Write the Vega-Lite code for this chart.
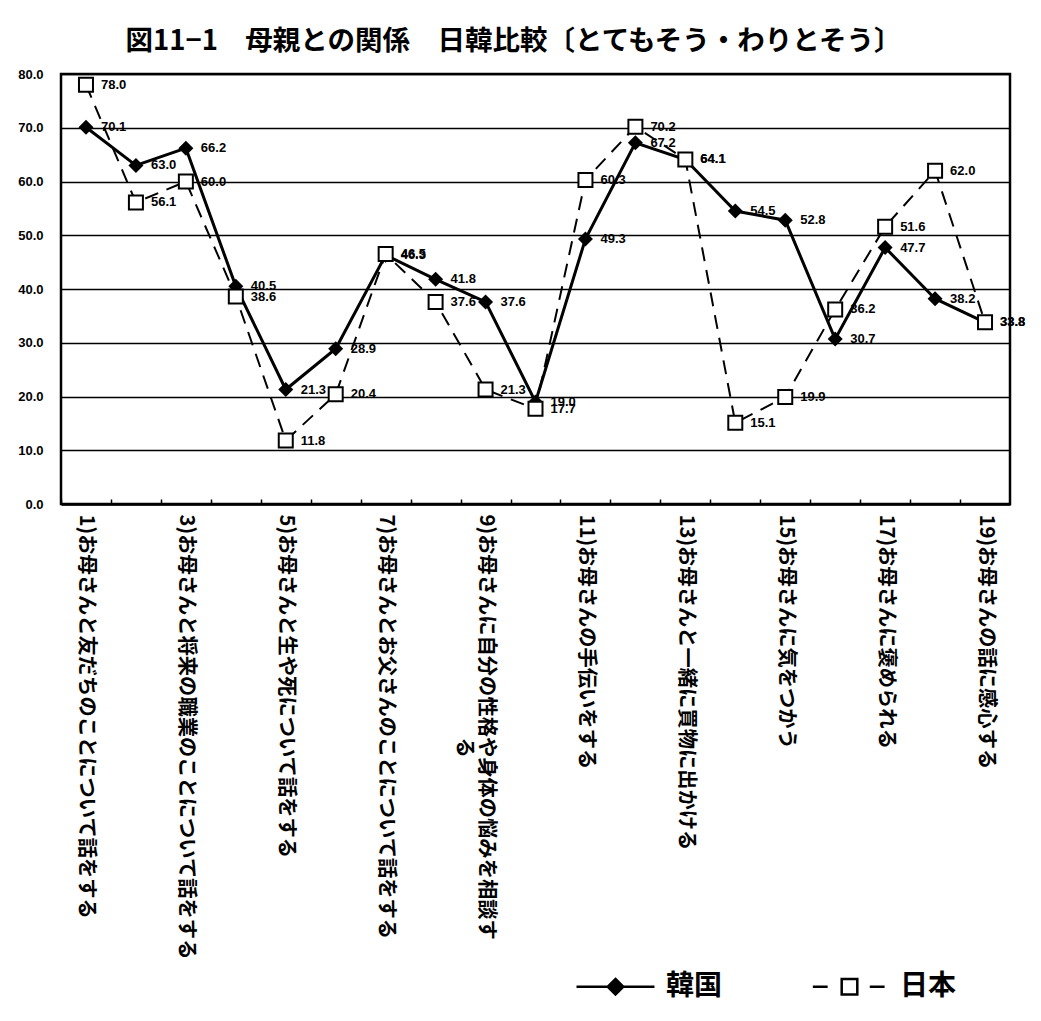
{
  "$schema": "https://vega.github.io/schema/vega-lite/v6.json",
  "width": 949,
  "height": 430,
  "autosize": "none",
  "padding": {"left": 61, "top": 74, "right": 31, "bottom": 517},
  "background": "white",
  "title": {
    "text": "図11−1　母親との関係　日韓比較〔とてもそう・わりとそう〕",
    "font": "Noto Sans CJK JP",
    "fontSize": 27.5,
    "fontWeight": "bold",
    "color": "black",
    "anchor": "middle",
    "dx": -22,
    "offset": 13
  },
  "config": {
    "view": {"stroke": "black", "strokeWidth": 2.5},
    "axis": {"labelColor": "black"}
  },
  "data": {
    "values": [
      {"n": 1, "country": "韓国", "value": 70.1},
      {"n": 2, "country": "韓国", "value": 63.0},
      {"n": 3, "country": "韓国", "value": 66.2},
      {"n": 4, "country": "韓国", "value": 40.5},
      {"n": 5, "country": "韓国", "value": 21.3},
      {"n": 6, "country": "韓国", "value": 28.9},
      {"n": 7, "country": "韓国", "value": 46.3},
      {"n": 8, "country": "韓国", "value": 41.8},
      {"n": 9, "country": "韓国", "value": 37.6},
      {"n": 10, "country": "韓国", "value": 19.0},
      {"n": 11, "country": "韓国", "value": 49.3},
      {"n": 12, "country": "韓国", "value": 67.2},
      {"n": 13, "country": "韓国", "value": 64.1},
      {"n": 14, "country": "韓国", "value": 54.5},
      {"n": 15, "country": "韓国", "value": 52.8},
      {"n": 16, "country": "韓国", "value": 30.7},
      {"n": 17, "country": "韓国", "value": 47.7},
      {"n": 18, "country": "韓国", "value": 38.2},
      {"n": 19, "country": "韓国", "value": 33.8},
      {"n": 1, "country": "日本", "value": 78.0},
      {"n": 2, "country": "日本", "value": 56.1},
      {"n": 3, "country": "日本", "value": 60.0},
      {"n": 4, "country": "日本", "value": 38.6},
      {"n": 5, "country": "日本", "value": 11.8},
      {"n": 6, "country": "日本", "value": 20.4},
      {"n": 7, "country": "日本", "value": 46.5},
      {"n": 8, "country": "日本", "value": 37.6},
      {"n": 9, "country": "日本", "value": 21.3},
      {"n": 10, "country": "日本", "value": 17.7},
      {"n": 11, "country": "日本", "value": 60.3},
      {"n": 12, "country": "日本", "value": 70.2},
      {"n": 13, "country": "日本", "value": 64.1},
      {"n": 14, "country": "日本", "value": 15.1},
      {"n": 15, "country": "日本", "value": 19.9},
      {"n": 16, "country": "日本", "value": 36.2},
      {"n": 17, "country": "日本", "value": 51.6},
      {"n": 18, "country": "日本", "value": 62.0},
      {"n": 19, "country": "日本", "value": 33.8}
    ]
  },
  "encoding": {
    "x": {
      "field": "n",
      "type": "ordinal",
      "scale": {"type": "point", "padding": 0.5},
      "axis": {
        "title": null,
        "domain": true,
        "domainColor": "black",
        "domainWidth": 2.5,
        "ticks": true,
        "tickColor": "black",
        "tickWidth": 1.5,
        "tickSize": -5,
        "tickOffset": -25,
        "labelOffset": 25,
        "labelAngle": 90,
        "labelAlign": "left",
        "labelBaseline": "middle",
        "labelPadding": 15,
        "labelFont": "Noto Sans CJK JP",
        "labelFontSize": 20.3,
        "labelFontWeight": "bold",
        "labelLimit": 0,
        "labelOverlap": false,
        "labelExpr": "['1)お母さんと友だちのことについて話をする', '', '3)お母さんと将来の職業のことについて話をする', '', '5)お母さんと生や死について話をする', '', '7)お母さんとお父さんのことについて話をする', '', ['9)お母さんに自分の性格や身体の悩みを相談す', '\u200d　　　　　　　　　　　る'], '', '11)お母さんの手伝いをする', '', '13)お母さんと一緒に買物に出かける', '', '15)お母さんに気をつかう', '', '17)お母さんに褒められる', '', '19)お母さんの話に感心する'][datum.value - 1]"
      }
    },
    "y": {
      "field": "value",
      "type": "quantitative",
      "scale": {"domain": [0, 80], "nice": false},
      "axis": {
        "title": null,
        "values": [0, 10, 20, 30, 40, 50, 60, 70, 80],
        "format": ".1f",
        "domain": false,
        "ticks": false,
        "grid": true,
        "gridColor": "black",
        "gridWidth": 1.5,
        "gridOpacity": 1,
        "labelPadding": 18,
        "labelFont": "Liberation Sans",
        "labelFontSize": 13,
        "labelFontWeight": "bold"
      }
    }
  },
  "layer": [
    {
      "transform": [{"filter": "datum.country === '韓国'"}],
      "mark": {"type": "line", "strokeWidth": 3},
      "encoding": {
        "color": {
          "field": "country",
          "type": "nominal",
          "scale": {"domain": ["韓国", "日本"], "range": ["black", "black"]},
          "legend": {
            "title": null,
            "orient": "none",
            "legendX": 514,
            "legendY": 872,
            "direction": "horizontal",
            "columns": 2,
            "symbolSize": 6084,
            "labelFont": "Noto Sans CJK JP",
            "labelFontSize": 28,
            "labelFontWeight": "bold",
            "labelColor": "black",
            "labelOffset": 10,
            "labelLimit": 0,
            "columnPadding": 84,
            "padding": 0,
            "encode": {
              "symbols": {
                "update": {
                  "shape": {"signal": "datum.value === '韓国' ? 'M-1,0H1M0,-0.2L0.2,0L0,0.2L-0.2,0Z' : 'M-0.94,0H-0.56M-0.2,-0.2H0.2V0.2H-0.2ZM0.52,0H0.9'"},
                  "fill": {"signal": "datum.value === '韓国' ? 'black' : 'white'"},
                  "stroke": {"value": "black"},
                  "strokeWidth": {"value": 2.5},
                  "strokeDash": {"value": []},
                  "opacity": {"value": 1},
                  "fillOpacity": {"value": 1}
                }
              }
            }
          }
        }
      }
    },
    {
      "transform": [{"filter": "datum.country === '日本'"}],
      "mark": {"type": "line", "strokeWidth": 2, "strokeDash": [14, 9]},
      "encoding": {
        "color": {"field": "country", "type": "nominal"}
      }
    },
    {
      "transform": [{"filter": "datum.country === '韓国'"}],
      "mark": {"type": "point", "shape": "diamond", "size": 225, "filled": true, "color": "black", "opacity": 1}
    },
    {
      "transform": [{"filter": "datum.country === '日本'"}],
      "mark": {"type": "point", "shape": "square", "size": 196, "filled": false, "fill": "white", "fillOpacity": 1, "stroke": "black", "strokeWidth": 2, "opacity": 1}
    },
    {
      "mark": {"type": "text", "align": "left", "baseline": "middle", "dx": 15, "font": "Liberation Sans", "fontSize": 13, "fontWeight": "bold", "color": "black"},
      "encoding": {
        "text": {"field": "value", "type": "quantitative", "format": ".1f"}
      }
    }
  ]
}
